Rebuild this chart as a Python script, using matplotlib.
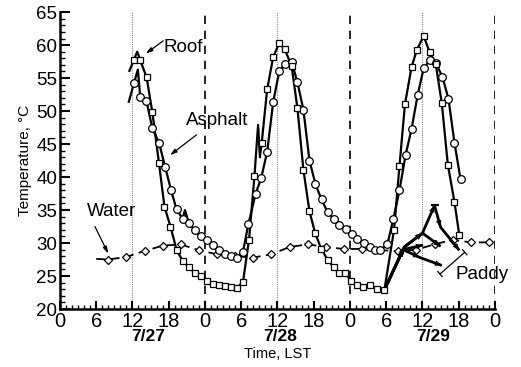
import matplotlib
matplotlib.use("Agg")
import matplotlib.pyplot as plt
from matplotlib.ticker import MultipleLocator, FixedLocator, FixedFormatter

plt.rcParams['font.family'] = ['Liberation Sans', 'DejaVu Sans']

# ---- hourly readings (hours since 0:00 LST on 7/27, temperature in deg C) ----
roof_hours = [12.25, 13.3, 14.35, 15.3, 16.4, 17.3, 18.3, 19.3, 20.3, 21.4, 22.3, 23.3,
              24.3, 25.3, 26.3, 27.3, 28.25, 29.25, 30.3, 31.3, 32.2, 33.4, 34.3, 35.3,
              36.3, 37.2, 38.35, 39.3, 40.3, 41.3, 42.25, 43.25, 44.3, 45.3, 46.2, 47.25,
              48.2, 49.2, 50.2, 51.3, 52.4, 53.7, 55.3, 56.2, 57.1, 58.2, 59.1, 60.2,
              61.2, 62.2, 63.2, 64.2, 65.3, 66.1]
roof_temp = [57.8, 57.7, 55.1, 49.8, 42.1, 35.5, 32.5, 29.0, 27.3, 26.3, 25.5, 25.0,
             24.3, 23.8, 23.6, 23.5, 23.4, 23.2, 24.1, 30.5, 40.2, 45.2, 53.3, 58.2,
             60.3, 59.4, 56.8, 50.5, 41.1, 34.8, 31.5, 29.1, 27.5, 26.3, 25.4, 25.5,
             24.2, 23.6, 23.4, 23.6, 23.1, 22.9, 32.0, 41.7, 51.0, 56.7, 59.3, 61.4,
             58.9, 57.1, 51.2, 41.9, 36.2, 31.2]
# intermediate recorder trace between hourly readings
roof_trace_hours = [11.5, 12.8, 32.8, 33.1]
roof_trace_temp = [56.1, 59.0, 47.9, 43.0]

asphalt_hours = [12.25, 13.3, 14.3, 15.3, 16.4, 17.4, 18.4, 19.3, 20.3, 21.3, 22.3, 23.3,
                 24.3, 25.3, 26.3, 27.3, 28.25, 29.3, 30.3, 31.2, 32.4, 33.3, 34.3, 35.3,
                 36.3, 37.3, 38.35, 39.3, 40.3, 41.3, 42.3, 43.3, 44.3, 45.35, 46.2, 47.3,
                 48.3, 49.2, 50.3, 51.3, 52.1, 53.0, 54.2, 55.2, 56.2, 57.2, 58.2, 59.2,
                 60.2, 61.2, 62.2, 63.3, 64.3, 65.3, 66.3]
asphalt_temp = [54.2, 52.1, 51.6, 47.4, 45.2, 41.6, 38.0, 35.1, 33.7, 33.1, 31.9, 31.1,
                30.5, 29.7, 29.0, 28.3, 28.0, 27.8, 28.7, 32.9, 37.5, 39.8, 43.8, 51.4,
                56.0, 57.2, 57.5, 54.4, 50.2, 42.5, 38.9, 36.6, 34.7, 33.6, 32.7, 32.2,
                31.4, 30.6, 30.0, 29.4, 28.9, 28.9, 29.8, 33.7, 38.0, 43.3, 47.3, 52.4,
                56.5, 57.7, 57.3, 55.2, 51.9, 45.2, 39.7]
asphalt_trace_hours = [11.4, 12.9, 20.7]
asphalt_trace_temp = [51.4, 56.3, 35.0]

water_hours = [8, 11, 14, 17, 20, 23, 26, 29, 32, 35, 38, 41, 44, 47, 50, 53, 56, 59,
               62, 65, 68, 71]
water_temp = [27.5, 27.9, 28.8, 29.6, 29.8, 28.9, 28.3, 28.0, 27.8, 28.3, 29.4, 29.8,
              29.4, 29.1, 29.1, 28.9, 28.8, 29.0, 29.8, 30.5, 30.1, 30.1]
water_trace_hours = [6.0]
water_trace_temp = [27.6]

# paddy field surface, several sensors on 7/29
paddy_hours = [
    [53.7, 57.0, 60.0, 62.0, 63.0, 66.1],
    [53.7, 57.0, 60.0, 63.0],
    [53.7, 56.8, 59.6, 63.2],
    [53.7, 56.8, 60.1],
]
paddy_temp = [
    [22.9, 29.4, 31.5, 35.7, 32.4, 28.9],
    [22.9, 29.4, 31.5, 29.5],
    [22.9, 29.0, 27.8, 26.6],
    [22.9, 29.0, 29.7],
]

hour_ticks = list(range(0, 73, 6))
hour_labels = ['0', '6', '12', '18', '0', '6', '12', '18', '0', '6', '12', '18', '0']
dates = ['7/27', '7/28', '7/29']
date_hours = [14.6, 36.5, 61.8]
noon_hours = [12, 36, 60]
midnight_hours = [24, 48, 72]


def merged(h1, t1, h2, t2):
    pts = sorted(zip(list(h1) + list(h2), list(t1) + list(t2)))
    return [p[0] for p in pts], [p[1] for p in pts]


fig = plt.figure(figsize=(5.21, 3.67), dpi=100)
ax = fig.add_axes([0.115, 0.158, 0.835, 0.809])

for h in noon_hours:
    ax.axvline(h, color='#888888', lw=0.8, ls=(0, (1, 1)), zorder=1)
for h in midnight_hours:
    ax.axvline(h, color='black', lw=1.2, ls=(0, (5, 4)), zorder=1)

# water: dashed line with diamonds
wx, wy = merged(water_hours, water_temp, water_trace_hours, water_trace_temp)
ax.plot(wx, wy, color='black', lw=1.3, ls=(0, (5, 3)), zorder=3)
ax.plot(water_hours, water_temp, ls='none', marker='D', ms=4.2, mfc='white',
        mec='black', mew=0.9, zorder=4)

# asphalt: circles
axh, axt = merged(asphalt_hours, asphalt_temp, asphalt_trace_hours, asphalt_trace_temp)
ax.plot(axh, axt, color='black', lw=1.6, zorder=5)
ax.plot(asphalt_hours, asphalt_temp, ls='none', marker='o', ms=5.5, mfc='white',
        mec='black', mew=0.9, zorder=6)

# roof: squares
rxh, rxt = merged(roof_hours, roof_temp, roof_trace_hours, roof_trace_temp)
ax.plot(rxh, rxt, color='black', lw=1.6, zorder=5)
ax.plot(roof_hours, roof_temp, ls='none', marker='s', ms=4.0, mfc='white',
        mec='black', mew=0.9, zorder=6)

# paddy: thick traces with arrowheads
for hs, ts in zip(paddy_hours, paddy_temp):
    ax.plot(hs, ts, color='black', lw=2.0, zorder=5, solid_capstyle='butt')
    for i in range(1, len(hs)):
        ax.annotate('', xy=(hs[i], ts[i]), xytext=(hs[i - 1], ts[i - 1]),
                    arrowprops=dict(arrowstyle='-|>,head_length=0.5,head_width=0.2',
                                    color='black', lw=0.01, shrinkA=0, shrinkB=0),
                    zorder=6)
ax.plot([paddy_hours[0][3]], [paddy_temp[0][3]], marker='_', ms=6, mew=1.5,
        color='black', zorder=6)

# labels with leader lines
label_size = 13.5
ax.text(20.4, 59.7, 'Roof', fontsize=label_size, ha='center', va='center')
ax.annotate('', xy=(14.2, 58.7), xytext=(17.1, 60.65),
            arrowprops=dict(arrowstyle='-|>,head_length=0.4,head_width=0.12',
                            color='black', lw=0.9, shrinkA=0, shrinkB=0))
ax.text(26.1, 48.5, 'Asphalt', fontsize=label_size, ha='center', va='center')
ax.annotate('', xy=(18.2, 43.3), xytext=(22.6, 46.4),
            arrowprops=dict(arrowstyle='-|>,head_length=0.4,head_width=0.12',
                            color='black', lw=0.9, shrinkA=0, shrinkB=0))
ax.text(8.5, 34.85, 'Water', fontsize=label_size, ha='center', va='center')
ax.annotate('', xy=(8.0, 28.4), xytext=(5.8, 32.5),
            arrowprops=dict(arrowstyle='-|>,head_length=0.4,head_width=0.12',
                            color='black', lw=0.9, shrinkA=0, shrinkB=0))
ax.text(69.9, 25.2, 'Paddy', fontsize=label_size, ha='center', va='center')
ax.annotate('', xy=(62.9, 25.3), xytext=(67.0, 28.6),
            arrowprops=dict(arrowstyle='|-|,widthA=0.25,widthB=0.25',
                            color='black', lw=0.9, shrinkA=0, shrinkB=0))

ax.set_xlim(0, 72)
ax.set_ylim(20, 65)
ax.xaxis.set_major_locator(FixedLocator(hour_ticks))
ax.xaxis.set_major_formatter(FixedFormatter(hour_labels))
ax.xaxis.set_minor_locator(MultipleLocator(1))
ax.yaxis.set_major_locator(MultipleLocator(5))
ax.yaxis.set_minor_locator(MultipleLocator(1))
ax.tick_params(axis='x', which='major', direction='in', length=6, width=1.5,
               labelsize=14.5, pad=2)
ax.tick_params(axis='x', which='minor', direction='in', length=3, width=1.0)
ax.tick_params(axis='y', which='major', direction='in', length=7, width=1.5,
               labelsize=13.5, pad=2)
ax.tick_params(axis='y', which='minor', direction='in', length=3.5, width=1.0)
for side in ('top', 'right'):
    ax.spines[side].set_visible(False)
for side in ('left', 'bottom'):
    ax.spines[side].set_linewidth(1.8)

for d, h in zip(dates, date_hours):
    ax.text(h, -0.093, d, transform=ax.get_xaxis_transform(), ha='center', va='center',
            fontsize=12.5, fontweight='bold')
fig.text(0.532, 0.036, 'Time, LST', fontsize=10.5, ha='center', va='center')
ax.set_ylabel('Temperature, °C', fontsize=11, labelpad=3)

fig.savefig('out.png', dpi=100)
